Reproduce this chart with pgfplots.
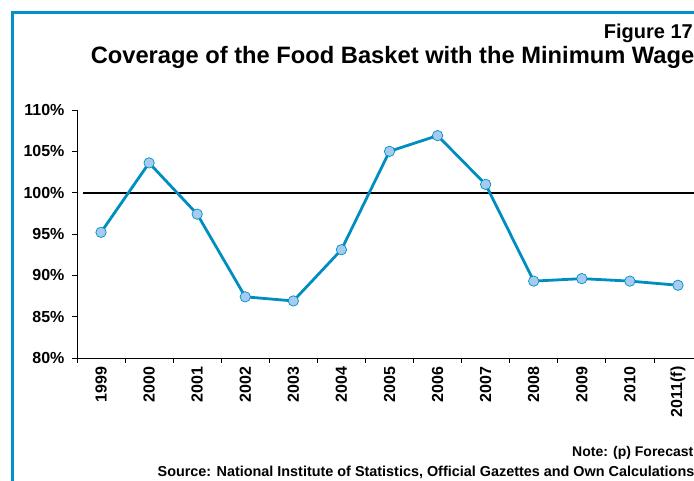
\documentclass[border=0pt]{standalone}
\usepackage{pgfplots}
\pgfplotsset{compat=1.18}
\usepackage{fontspec}
\setmainfont{Liberation Sans}
\definecolor{frameblue}{RGB}{0,146,200}
\definecolor{lineblue}{RGB}{0,142,192}
\definecolor{markfill}{RGB}{165,203,240}
\begin{document}
\begin{tikzpicture}[x=1pt,y=1pt]
\path[use as bounding box] (0,0) rectangle (694,481);
\begin{scope}
\clip (0,0) rectangle (694,481);
\draw[frameblue, line width=3pt] (12,-5) -- (12,468) -- (720,468);
\begin{axis}[
  at={(77pt,123pt)}, anchor=south west,
  scale only axis, width=625pt, height=248pt,
  xmin=-0.5, xmax=12.5, ymin=80, ymax=110,
  axis x line*=bottom, axis y line*=left,
  axis line style={black, line width=0.8pt},
  ytick={80,85,...,110},
  yticklabel={\pgfmathprintnumber{\tick}\%},
  xtick={0,...,12},
  xticklabels={1999,2000,2001,2002,2003,2004,2005,2006,2007,2008,2009,2010,2011(f)},
  minor xtick={-0.5,0.5,...,12.5},
  major x tick style={draw=none},
  minor x tick style={black, line width=0.8pt},
  major y tick style={black, line width=0.8pt},
  tick align=outside, major tick length=5pt, minor tick length=5pt,
  /pgf/number format/assume math mode=true,
  xticklabel style={rotate=90, anchor=east, font=\bfseries\fontsize{16}{16}\selectfont},
  yticklabel style={font=\bfseries\fontsize{16}{16}\selectfont, xshift=-4pt},
  clip=false,
]
\addplot[black, line width=2pt, forget plot] coordinates {(-0.375,100) (12.8,100)};
\addplot[lineblue, line width=2.8pt, mark=*, mark size=5.2pt,
  mark options={fill=markfill, draw=lineblue, line width=0.7pt}]
  coordinates {
  (0,95.2) (1,103.6) (2,97.4) (3,87.4) (4,86.9) (5,93.1) (6,105.0)
  (7,106.9) (8,101.0) (9,89.3) (10,89.6) (11,89.3) (12,88.8)};
\end{axis}
\node[anchor=base east, inner sep=0pt, font=\bfseries\fontsize{20}{20}\selectfont] at (693,442.7) {Figure 17};
\node[anchor=base east, inner sep=0pt, font=\bfseries\fontsize{23.7}{23.7}\selectfont] at (694.5,417.7) {Coverage of the Food Basket with the Minimum Wage};
\node[anchor=base east, inner sep=0pt, font=\bfseries\fontsize{14}{14}\selectfont] at (693.5,24.3) {Note: (p) Forecast};
\node[anchor=base east, inner sep=0pt, font=\bfseries\fontsize{14.4}{14.4}\selectfont] at (694.5,4.6) {Source: National Institute of Statistics, Official Gazettes and Own Calculations};
\end{scope}
\end{tikzpicture}
\end{document}
